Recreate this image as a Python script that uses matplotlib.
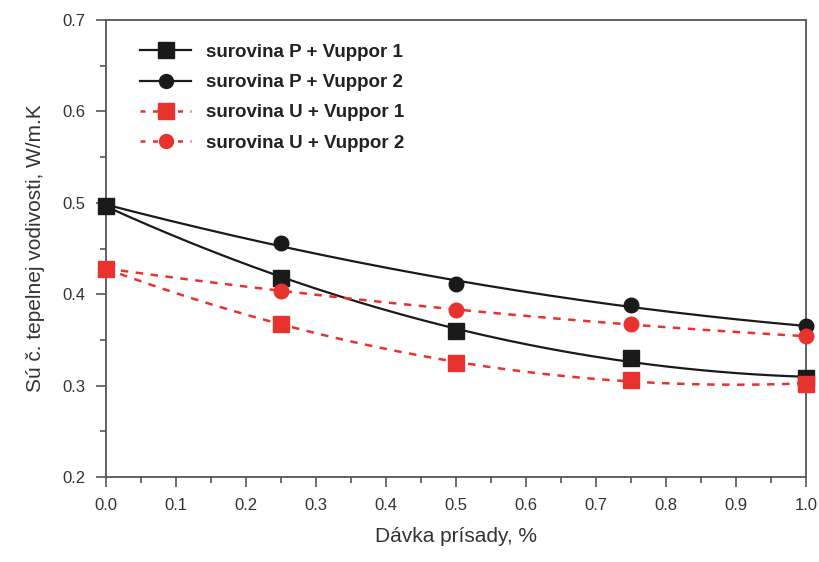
import matplotlib
matplotlib.use('Agg')
import matplotlib.pyplot as plt
import numpy as np
from matplotlib.ticker import MultipleLocator

plt.rcParams['font.family'] = ['Liberation Sans', 'DejaVu Sans']

# dávka prísady, %
x = [0.0, 0.25, 0.5, 0.75, 1.0]
p_v1 = [0.497, 0.418, 0.360, 0.330, 0.308]
p_v2 = [0.497, 0.456, 0.411, 0.388, 0.365]
u_v1 = [0.428, 0.367, 0.325, 0.306, 0.302]
u_v2 = [0.428, 0.404, 0.383, 0.367, 0.354]
labels = ['surovina P + Vuppor 1', 'surovina P + Vuppor 2',
          'surovina U + Vuppor 1', 'surovina U + Vuppor 2']

red = '#e8322e'
black = '#1a1a1a'

fig = plt.figure(figsize=(8.19, 5.62), dpi=100)
ax = fig.add_axes([0.1294, 0.1512, 0.8547, 0.8132])

xs = np.linspace(0, 1, 200)
series = [(p_v1, black, 's', '-'), (p_v2, black, 'o', '-'),
          (u_v1, red, 's', '--'), (u_v2, red, 'o', '--')]
for (y, c, m, ls), lab in zip(series, labels):
    # hladká krivka (polynóm 2. stupňa) cez body
    fit = np.polyval(np.polyfit(x, y, 2), xs)
    if ls == '-':
        ax.plot(xs, fit, color=c, lw=1.6, ls='-', clip_on=False)
    else:
        ax.plot(xs, fit, color=c, lw=1.8, ls=(0, (3, 3)), clip_on=False)
    ax.plot(x, y, ls='none', marker=m, color=c, ms=12 if m == 's' else 10.5,
            clip_on=False, zorder=3)
    # položka legendy
    ax.plot([], [], color=c, lw=1.6 if ls == '-' else 1.8,
            ls='-' if ls == '-' else (0, (2, 3)), marker=m,
            ms=11 if m == 's' else 10, label=lab)

ax.set_xlim(0, 1.0)
ax.set_ylim(0.2, 0.7)
ax.xaxis.set_major_locator(MultipleLocator(0.1))
ax.xaxis.set_minor_locator(MultipleLocator(0.05))
ax.yaxis.set_major_locator(MultipleLocator(0.1))
ax.yaxis.set_minor_locator(MultipleLocator(0.05))
ax.xaxis.set_major_formatter(matplotlib.ticker.FormatStrFormatter('%.1f'))
ax.yaxis.set_major_formatter(matplotlib.ticker.FormatStrFormatter('%.1f'))
ax.tick_params(which='major', direction='out', length=7, width=1.2,
               color='#555555', labelsize=12, labelcolor='#333333', pad=8)
ax.tick_params(which='minor', direction='out', length=4, width=1.2, color='#555555')
for s in ax.spines.values():
    s.set_color('#555555')
    s.set_linewidth(1.3)

ax.set_xlabel('Dávka prísady, %', fontsize=15, color='#333333', labelpad=10)
ax.set_ylabel('Sú č. tepelnej vodivosti, W/m.K', fontsize=15, color='#333333', labelpad=12)

leg = ax.legend(loc='upper left', bbox_to_anchor=(0.025, 0.985), frameon=False,
                handlelength=2.7, labelspacing=0.7, handletextpad=0.8,
                prop={'weight': 'bold', 'size': 13.5})
for t in leg.get_texts():
    t.set_color('#222222')

fig.savefig('out.png', dpi=100)
